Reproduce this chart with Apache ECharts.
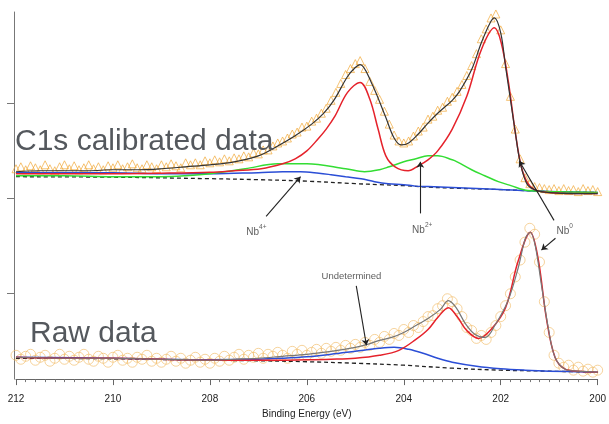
<!DOCTYPE html>
<html>
<head>
<meta charset="utf-8">
<script src="https://cdn.jsdelivr.net/npm/echarts@6/dist/echarts.min.js"></script>
<style>html,body{margin:0;padding:0;background:#fff}#c{width:609px;height:424px}</style>
</head>
<body>
<div id="c"></div>
<script>
// ---------- DATA (binding energy in eV, intensity in arbitrary offset units) ----------
const xTickLabels = [212, 210, 208, 206, 204, 202, 200];
const yTickValues = [87, 182, 278];
const obsStart = 212, obsStep = 0.1; // measured points every 0.1 eV from 212 down to 200

// C1s calibrated spectrum, measured points (triangles)
const calibratedObs = [
  212,214,211,215,213,211,216,212,210,214,
  216,212,215,211,213,216,212,214,211,215,
  213,216,212,214,217,213,212,216,214,212,
  216,214,217,215,213,218,216,218,216,220,
  218,221,219,222,220,223,222,225,224,228,
  227,231,231,235,238,240,243,247,249,254,
  255,260,263,268,273,281,289,298,307,313,
  318,321,313,300,291,282,270,257,246,240,
  238,240,245,250,254,262,265,271,274,280,
  284,290,297,306,316,328,343,353,364,368,
  352,318,285,252,222,203,197,194,193,192,
  191,192,190,192,190,191,189,192,190,191,
  189
];
const calibratedEnvelope = [[212,209],[211.5,210],[211,210],[210.5,210],[210,211],[209.5,211],[209,212],[208.5,214],[208,216],[207.5,219],[207,225],[206.6,235],[206.25,245],[205.9,257],[205.65,268],[205.43,282],[205.16,305],[205,314],[204.9,317],[204.67,299],[204.38,265],[204.2,243],[204.05,236],[203.9,238],[203.7,247],[203.5,258],[203.3,268],[203,281],[202.85,290],[202.6,312],[202.4,339],[202.22,359],[202.13,364],[202,349],[201.9,315],[201.8,282],[201.7,249],[201.6,219],[201.45,196],[201.25,190],[201,188],[200.5,187],[200,187]];
const calibratedNb0 = [[212,207],[210,207],[209,207.5],[208,208.5],[207.5,210],[206.94,212],[206.5,217],[206.24,222],[206,230],[205.77,242],[205.6,252],[205.42,265],[205.16,289],[204.9,299],[204.7,282],[204.53,252],[204.37,225],[204.18,214],[203.91,210],[203.7,215],[203.5,221],[203.3,230],[203,252],[202.7,285],[202.4,332],[202.13,354],[201.99,339],[201.84,299],[201.7,249],[201.58,215],[201.45,198],[201.3,191],[201,188],[200.5,187],[200,187]];
const calibratedNb2 = [[212,205],[211,205],[210,204],[209,204],[208.5,205],[208,207],[207.27,212],[206.6,217],[206,217],[205.2,212],[204.81,209],[204.5,211],[204.3,214],[204,219],[203.75,222],[203.5,225],[203.3,225],[203,221],[202.9,219],[202.6,211],[202.33,205],[202.05,199],[201.79,195],[201.44,190],[201,189],[200,188]];
const calibratedNb4 = [[212,208],[210,208],[209,207],[208,207],[207.5,207.5],[207,208],[206.5,209],[206.13,209],[205.75,207.5],[205.5,206],[205.2,204],[204.88,202],[204.6,199],[204.32,197],[204,196],[203.76,194.5],[203.5,194],[203,193],[202.5,192],[202,191],[201,189],[200,188]];
const calibratedBackground = [[212,204],[210,203.5],[208,202],[207,201],[206,199.5],[205,197],[204.5,196],[204,195],[203.5,193.5],[203,192.5],[202,191],[201,189],[200,188]];

// Raw spectrum, measured points (circles)
const rawObs = [
  24,20,23,25,19,22,24,18,21,25,
  20,23,19,22,25,20,18,23,21,17,
  22,24,19,21,17,22,20,24,18,21,
  17,20,23,18,21,16,19,22,17,20,
  16,21,18,23,19,22,25,20,24,22,
  26,21,25,23,27,24,21,28,25,29,
  24,27,30,26,31,28,32,29,34,31,
  35,32,37,34,40,37,43,40,46,44,
  50,47,54,52,58,63,64,71,74,81,
  78,71,63,52,49,41,44,40,47,54,
  63,74,86,103,120,138,152,146,118,78,
  47,24,16,12,14,9,12,8,10,7,
  9
];
const rawEnvelope = [[212,22],[211,21],[210,21],[209,20],[208,19],[207.5,20],[207,21],[206.5,23],[206,25],[205.5,28],[205,32],[204.75,35],[204.5,39],[204.25,42],[204,47],[203.75,54],[203.5,61],[203.25,70],[203.08,79],[202.92,72],[202.73,56],[202.53,45],[202.32,42],[202.11,55],[201.85,79],[201.64,112],[201.49,142],[201.39,148],[201.29,135],[201.16,95],[201.02,52],[200.88,22],[200.67,10],[200.4,8],[200,7]];
const rawNb0 = [[212,22],[211,21],[210,21],[209,20],[208,19],[207,19],[206,19.5],[205.5,20],[205,21],[204.5,24],[204.1,29],[203.75,40],[203.5,50],[203.3,62],[203.08,72],[202.9,63],[202.7,49],[202.46,41],[202.2,50],[201.9,72],[201.64,119],[201.39,148],[201.23,122],[201.06,62],[200.88,22],[200.67,10],[200.4,8],[200,7]];
const rawUndetermined = [[212,22],[210,21],[208,19.5],[207,20],[206.5,21],[206,22.5],[205.5,25],[205,28],[204.5,31],[204.2,32],[203.9,30],[203.6,26],[203.3,21],[203,17],[202.5,13],[202,10.5],[201.5,9],[201,8],[200,7]];
const rawBackground = [[212,21],[210,20.5],[208,19],[207,18.5],[206,17.5],[205,16],[204,14],[203,11],[202,9],[201,8],[200,7]];

// ---------- BUILD ----------
const toPairs = vals => vals.map((v, i) => [+(obsStart - i * obsStep).toFixed(1), v]);
const FONT = '"Liberation Sans", Arial, sans-serif';

function curve(name, data, color, width, type, z) {
  return { name, type: 'line', data, showSymbol: false, smooth: 0.35,
    lineStyle: { color, width, type: type || 'solid' }, z: z || 3, silent: true, animation: false };
}

const chart = echarts.init(document.getElementById('c'), null, { renderer: 'canvas' });
chart.setOption({
  animation: false,
  backgroundColor: '#fff',
  grid: { left: 16, right: 10, top: 12, bottom: 42 },
  xAxis: {
    type: 'value', min: 200, max: 212, interval: 2, inverse: true,
    axisLine: { lineStyle: { color: '#666', width: 1 } },
    axisTick: { length: 6, lineStyle: { color: '#666' } },
    minorTick: { show: true, splitNumber: 10, length: 3, lineStyle: { color: '#777' } },
    splitLine: { show: false }, minorSplitLine: { show: false },
    axisLabel: { fontSize: 10, color: '#222', margin: 15, fontFamily: FONT,
      formatter: v => (xTickLabels.indexOf(v) >= 0 ? String(v) : '') },
    name: 'Binding Energy (eV)', nameLocation: 'middle', nameGap: 26,
    nameTextStyle: { fontSize: 10, color: '#222', fontFamily: FONT }
  },
  yAxis: {
    type: 'value', min: 0, max: 370, offset: 2,
    axisLine: { show: true, lineStyle: { color: '#777', width: 1 } },
    axisTick: { show: true, length: 7, customValues: yTickValues, lineStyle: { color: '#777' } },
    axisLabel: { show: false }, splitLine: { show: false }
  },
  graphic: [
    { type: 'text', left: 15, top: 127, z: 100,
      style: { text: 'C1s calibrated data', font: '30px ' + FONT, fill: '#54585d' } },
    { type: 'text', left: 30, top: 319, z: 100,
      style: { text: 'Raw data', font: '30px ' + FONT, fill: '#54585d' } }
  ],
  series: [
    { name: 'calibrated data', type: 'scatter', data: toPairs(calibratedObs), symbol: 'triangle', symbolSize: 8,
      itemStyle: { color: 'rgba(0,0,0,0)', borderColor: 'rgba(240,165,50,0.85)', borderWidth: 1 }, z: 2, silent: true },
    { name: 'raw data', type: 'scatter', data: toPairs(rawObs), symbol: 'circle', symbolSize: 10,
      itemStyle: { color: 'rgba(0,0,0,0)', borderColor: 'rgba(242,190,110,0.85)', borderWidth: 1 }, z: 2, silent: true },
    curve('cal background', calibratedBackground, '#222', 1.3, [4, 3]),
    curve('cal Nb4+', calibratedNb4, '#2b4ed6', 1.5),
    curve('cal Nb2+', calibratedNb2, '#33dd33', 1.5),
    curve('cal Nb0', calibratedNb0, '#e5222b', 1.5),
    curve('cal envelope', calibratedEnvelope, '#333', 1.2, null, 4),
    curve('raw background', rawBackground, '#222', 1.3, [4, 3]),
    curve('raw undetermined', rawUndetermined, '#2b4ed6', 1.5),
    curve('raw Nb0', rawNb0, '#e5222b', 1.5),
    curve('raw envelope', rawEnvelope, '#777', 1.2, null, 4),
    {
      name: 'annotations', type: 'scatter', symbolSize: 0, z: 6, silent: true,
      data: [
        { value: [207.04, 150], label: { formatter: '{b|Nb}{s|4+}' } },
        { value: [203.62, 152], label: { formatter: '{b|Nb}{s|2+}' } },
        { value: [200.68, 151], label: { formatter: '{b|Nb}{s|0}' } },
        { value: [205.08, 104], label: { formatter: '{u|Undetermined}' } }
      ],
      label: { show: true, position: 'inside',
        rich: {
          b: { fontSize: 10, color: '#333', fontFamily: FONT, lineHeight: 13, verticalAlign: 'bottom' },
          s: { fontSize: 6.5, color: '#333', fontFamily: FONT, lineHeight: 13, verticalAlign: 'top' },
          u: { fontSize: 9.5, color: '#333', fontFamily: FONT }
        } },
      markLine: {
        silent: true, symbol: ['none', 'arrow'], symbolSize: 6,
        lineStyle: { color: '#222', width: 1.1, type: 'solid' }, label: { show: false },
        data: [
          [{ coord: [206.84, 164] }, { coord: [206.13, 204] }],
          [{ coord: [203.66, 167] }, { coord: [203.66, 219] }],
          [{ coord: [200.90, 160] }, { coord: [201.62, 220] }],
          [{ coord: [200.87, 142] }, { coord: [201.16, 130] }],
          [{ coord: [204.98, 94] }, { coord: [204.77, 34] }]
        ]
      }
    }
  ]
});
</script>
</body>
</html>
